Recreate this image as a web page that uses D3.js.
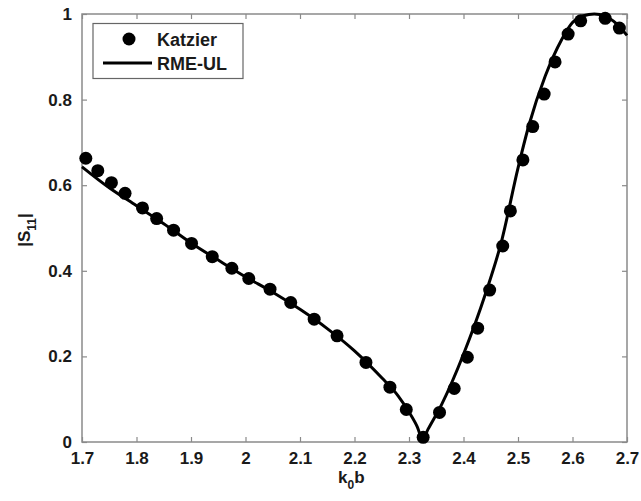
<!DOCTYPE html>
<html>
<head>
<meta charset="utf-8">
<script src="https://cdn.jsdelivr.net/npm/d3@7"></script>
<style>
  html, body { margin: 0; padding: 0; background: #fff; }
  svg { display: block; }
  text { font-family: "Liberation Sans", Arial, sans-serif; font-weight: bold; fill: #1a1a1a; }
</style>
</head>
<body>
<svg id="chart" width="641" height="501"></svg>
<script>
// ---- data ----
const katzierX = [1.707, 1.729, 1.754, 1.779, 1.811, 1.837, 1.868, 1.901, 1.939, 1.975, 2.006,
  2.045, 2.083, 2.126, 2.168, 2.221, 2.265, 2.295, 2.326, 2.356, 2.383, 2.407, 2.426, 2.448,
  2.472, 2.486, 2.509, 2.527, 2.548, 2.568, 2.592, 2.615, 2.660, 2.686];
const katzierY = [0.663, 0.634, 0.606, 0.581, 0.547, 0.522, 0.495, 0.464, 0.433, 0.406, 0.382,
  0.357, 0.326, 0.287, 0.248, 0.186, 0.128, 0.076, 0.011, 0.069, 0.125, 0.198, 0.266, 0.355,
  0.458, 0.540, 0.659, 0.737, 0.813, 0.888, 0.953, 0.984, 0.990, 0.967];
const rmeX = [1.70, 1.75, 1.80, 1.85, 1.90, 1.95, 2.00, 2.05, 2.10, 2.15, 2.20, 2.25, 2.28, 2.30,
  2.315, 2.325, 2.335, 2.36, 2.40, 2.44, 2.47, 2.50, 2.52, 2.55, 2.58, 2.60, 2.62, 2.64, 2.66, 2.68, 2.70];
const rmeY = [0.643, 0.594, 0.552, 0.510, 0.465, 0.425, 0.386, 0.350, 0.310, 0.265, 0.213, 0.150, 0.108, 0.070,
  0.036, 0.006, 0.030, 0.088, 0.205, 0.345, 0.470, 0.640, 0.740, 0.855, 0.940, 0.980, 0.996, 1.000, 0.995, 0.978, 0.950];
const xTicks = [1.7, 1.8, 1.9, 2.0, 2.1, 2.2, 2.3, 2.4, 2.5, 2.6, 2.7];
const xTickLabels = ["1.7", "1.8", "1.9", "2", "2.1", "2.2", "2.3", "2.4", "2.5", "2.6", "2.7"];
const yTicks = [0, 0.2, 0.4, 0.6, 0.8, 1];
const yTickLabels = ["0", "0.2", "0.4", "0.6", "0.8", "1"];
const seriesNames = ["Katzier", "RME-UL"];

// ---- layout ----
const svg = d3.select("#chart");
const L = 82, R = 627, T = 14, B = 442;
const x = d3.scaleLinear().domain([1.7, 2.7]).range([L, R]);
const y = d3.scaleLinear().domain([0, 1]).range([B, T]);
const axisColor = "#8a8a8a";
const fs = 17;

// frame
svg.append("rect").attr("x", L).attr("y", T).attr("width", R - L).attr("height", B - T)
  .attr("fill", "none").attr("stroke", axisColor).attr("stroke-width", 1.5);

function styleAxis(g, showLabels) {
  g.select(".domain").remove();
  g.selectAll(".tick line").attr("stroke", axisColor).attr("stroke-width", 1.2);
  if (!showLabels) g.selectAll(".tick text").remove();
  g.selectAll(".tick text").attr("font-size", fs).attr("fill", "#1a1a1a")
    .attr("font-family", "Liberation Sans, Arial, sans-serif").attr("font-weight", "bold");
}

const xb = svg.append("g").attr("transform", `translate(0,${B})`)
  .call(d3.axisBottom(x).tickValues(xTicks).tickSize(-5).tickPadding(10)
    .tickFormat((d, i) => xTickLabels[i]));
styleAxis(xb, true);
const xt = svg.append("g").attr("transform", `translate(0,${T})`)
  .call(d3.axisTop(x).tickValues(xTicks).tickSize(-5));
styleAxis(xt, false);
const yl = svg.append("g").attr("transform", `translate(${L},0)`)
  .call(d3.axisLeft(y).tickValues(yTicks).tickSize(-5).tickPadding(10)
    .tickFormat((d, i) => yTickLabels[i]));
styleAxis(yl, true);
const yr = svg.append("g").attr("transform", `translate(${R},0)`)
  .call(d3.axisRight(y).tickValues(yTicks).tickSize(-5));
styleAxis(yr, false);

// curve
const rme = rmeX.map((v, i) => [v, rmeY[i]]);
svg.append("path").datum(rme)
  .attr("fill", "none").attr("stroke", "#000").attr("stroke-width", 3)
  .attr("stroke-linejoin", "round")
  .attr("d", d3.line().x(d => x(d[0])).y(d => y(d[1])).curve(d3.curveMonotoneX));

// points
const kat = katzierX.map((v, i) => [v, katzierY[i]]);
svg.append("g").selectAll("circle").data(kat).join("circle")
  .attr("cx", d => x(d[0])).attr("cy", d => y(d[1])).attr("r", 6.5).attr("fill", "#000");

// axis labels
const xl = svg.append("text").attr("x", 338).attr("y", 483).attr("font-size", fs);
xl.append("tspan").text("k");
xl.append("tspan").attr("font-size", 12).attr("dy", 6).text("0");
xl.append("tspan").attr("dy", -6).text("b");

const ylab = svg.append("text").attr("transform", `translate(30,${(T + B) / 2 + 2}) rotate(-90)`)
  .attr("text-anchor", "middle").attr("font-size", fs);
ylab.append("tspan").text("|S");
ylab.append("tspan").attr("font-size", 12).attr("dy", 6).text("11");
ylab.append("tspan").attr("dy", -6).text("|");

// legend
const lfs = 18;
const lg = svg.append("g");
lg.append("rect").attr("x", 93).attr("y", 23.5).attr("width", 150).attr("height", 55)
  .attr("fill", "#fff").attr("stroke", "#666").attr("stroke-width", 1.2);
lg.append("circle").attr("cx", 129).attr("cy", 39).attr("r", 6.5).attr("fill", "#000");
lg.append("line").attr("x1", 103).attr("x2", 152).attr("y1", 63).attr("y2", 63)
  .attr("stroke", "#000").attr("stroke-width", 3);
lg.append("text").attr("x", 157).attr("y", 45.5).attr("font-size", lfs).text(seriesNames[0]);
lg.append("text").attr("x", 157).attr("y", 69.5).attr("font-size", lfs).text(seriesNames[1]);
</script>
</body>
</html>
